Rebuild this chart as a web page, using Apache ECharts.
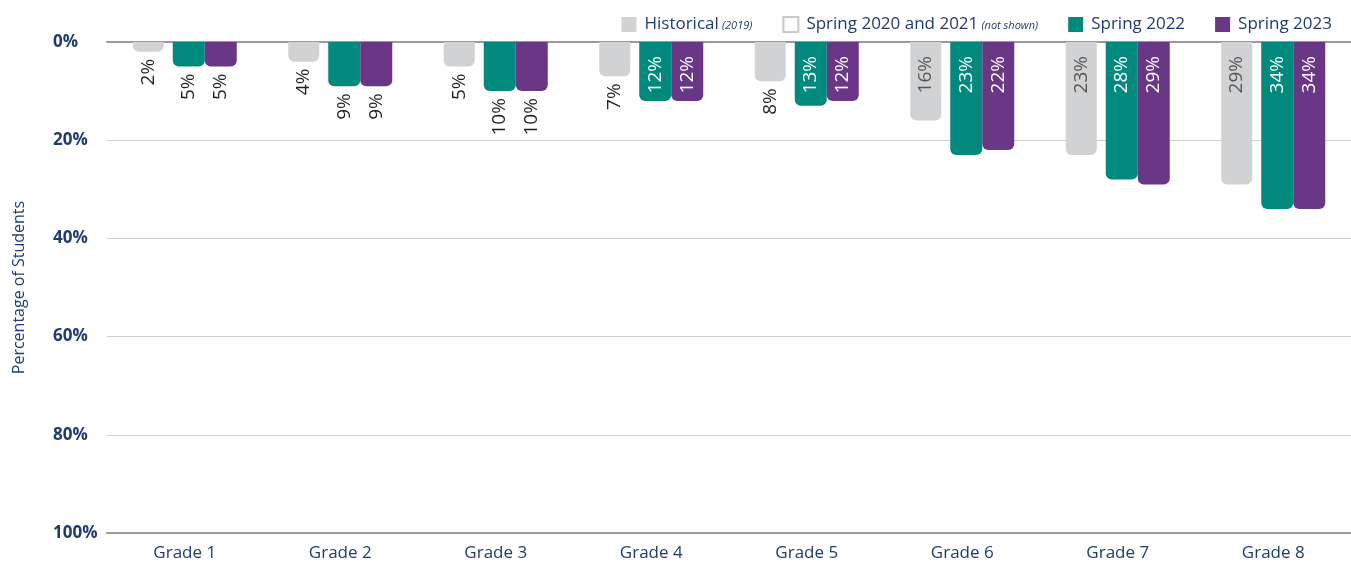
<!DOCTYPE html>
<html>
<head>
<meta charset="utf-8">
<title>Percentage of Students by Grade</title>
<script src="https://cdn.jsdelivr.net/npm/echarts@6/dist/echarts.min.js"></script>
<style>
  html, body { margin: 0; padding: 0; background: #ffffff; }
  #chart { width: 1351px; height: 563px; }
</style>
</head>
<body>
<div id="chart"></div>
<script>
// 数据
const grades = ['Grade 1', 'Grade 2', 'Grade 3', 'Grade 4', 'Grade 5', 'Grade 6', 'Grade 7', 'Grade 8'];
const historical = [2, 4, 5, 7, 8, 16, 23, 29];
const notShown = [null, null, null, null, null, null, null, null];
const spring2022 = [5, 9, 10, 12, 13, 23, 28, 34];
const spring2023 = [5, 9, 10, 12, 12, 22, 29, 34];
const yTicks = [0, 20, 40, 60, 80, 100];

const NAVY = '#1f3b6f';
const FONT = '"Open Sans", "Noto Sans", sans-serif';

// 标签：短柱放在柱子下方，长柱放在柱内
function labelled(values, insideMin, insideColor) {
    return values.map(v => {
        const inside = v >= insideMin;
        return {
            value: v,
            label: {
                show: true,
                position: inside ? 'insideTop' : 'bottom',
                distance: inside ? 14 : 7,
                rotate: 90,
                align: 'right',
                verticalAlign: 'middle',
                color: inside ? insideColor : '#231f20',
                fontFamily: FONT,
                fontSize: 19,
                formatter: '{c}%'
            }
        };
    });
}

const barRadius = [0, 0, 6, 6];

const chart = echarts.init(document.getElementById('chart'));

chart.setOption({
    backgroundColor: '#ffffff',
    animation: false,
    textStyle: { fontFamily: FONT },
    legend: {
        top: 11,
        right: 14,
        itemWidth: 15,
        itemHeight: 15,
        itemGap: 30,
        icon: 'rect',
        data: ['Historical', 'Spring 2020 and 2021', 'Spring 2022', 'Spring 2023'],
        formatter: (name) => {
            if (name === 'Historical') return '{a|Historical} {b|(2019)}';
            if (name === 'Spring 2020 and 2021') return '{a|Spring 2020 and 2021} {b|(not shown)}';
            return '{a|' + name + '}';
        },
        textStyle: {
            rich: {
                a: { fontSize: 17, color: NAVY, fontFamily: FONT, padding: [0, 0, 0, 3] },
                b: { fontSize: 11, color: NAVY, fontStyle: 'italic', fontFamily: FONT, padding: [3, 0, 0, 0] }
            }
        }
    },
    grid: {
        left: 107,
        width: 1250,
        top: 42,
        bottom: 30,
        containLabel: false
    },
    xAxis: [
        {
            type: 'category',
            data: grades,
            position: 'bottom',
            axisLine: { onZero: false, lineStyle: { color: '#9a9a9a', width: 2 } },
            axisTick: { show: false },
            axisLabel: { color: NAVY, fontSize: 17, fontFamily: FONT, margin: 12 }
        },
        {
            type: 'category',
            data: grades,
            position: 'top',
            axisLine: { onZero: false, lineStyle: { color: '#9a9a9a', width: 2 } },
            axisTick: { show: false },
            axisLabel: { show: false }
        }
    ],
    yAxis: {
        type: 'value',
        inverse: true,
        min: yTicks[0],
        max: yTicks[yTicks.length - 1],
        interval: 20,
        name: 'Percentage of Students',
        nameLocation: 'middle',
        nameRotate: 90,
        nameGap: 80,
        nameTextStyle: { color: NAVY, fontSize: 16, fontFamily: FONT },
        axisLine: { show: false },
        axisTick: { show: false },
        axisLabel: {
            formatter: '{value}%',
            align: 'left',
            margin: 54,
            color: NAVY,
            fontSize: 17,
            fontWeight: 'bold',
            fontFamily: FONT
        },
        splitLine: { lineStyle: { color: '#cfcfcf', width: 1 } }
    },
    series: [
        {
            name: 'Historical',
            type: 'bar',
            barWidth: 31,
            barGap: '0%',
            data: labelled(historical, 12, '#555555'),
            itemStyle: { color: '#d1d2d4', borderRadius: barRadius }
        },
        {
            name: 'Spring 2020 and 2021',
            type: 'bar',
            barWidth: 9,
            barGap: '0%',
            data: notShown,
            itemStyle: { color: '#ffffff', borderColor: '#c8c8c8', borderWidth: 1 }
        },
        {
            name: 'Spring 2022',
            type: 'bar',
            barWidth: 32,
            barGap: '0%',
            data: labelled(spring2022, 12, '#ffffff'),
            itemStyle: { color: '#00897c', borderRadius: barRadius }
        },
        {
            name: 'Spring 2023',
            type: 'bar',
            barWidth: 32,
            barGap: '0%',
            data: labelled(spring2023, 12, '#ffffff'),
            itemStyle: { color: '#6a3787', borderRadius: barRadius }
        }
    ]
});
</script>
</body>
</html>
